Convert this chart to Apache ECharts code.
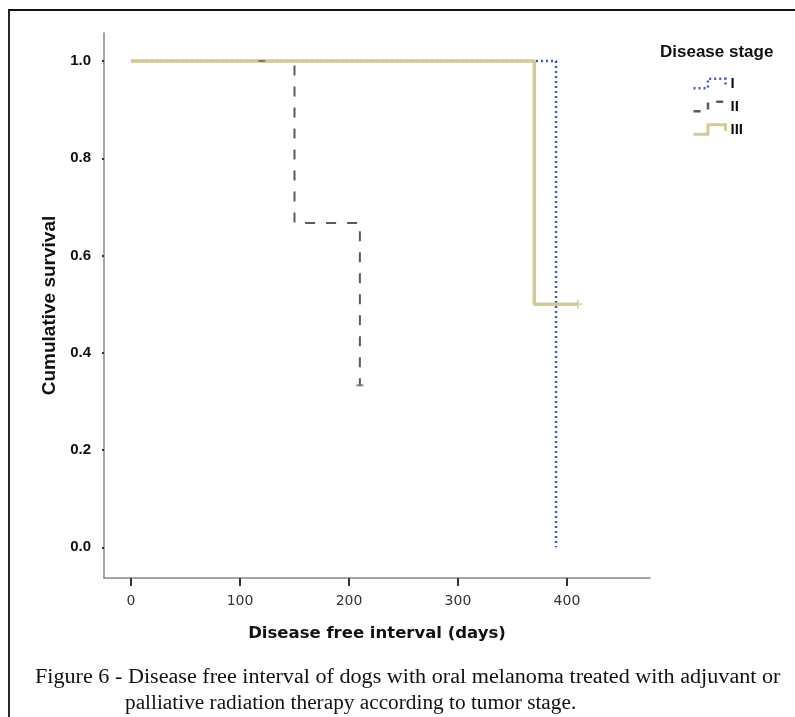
<!DOCTYPE html>
<html>
<head>
<meta charset="utf-8">
<script src="https://cdn.jsdelivr.net/npm/echarts@6/dist/echarts.min.js"></script>
<style>
html,body{margin:0;padding:0;background:#fff;}
#chart{width:795px;height:717px;}
</style>
</head>
<body>
<div id="chart"></div>
<script>
// ---- data ----
const stageNames = ['I', 'II', 'III'];
// Kaplan-Meier step points [days, cumulative survival]
const stageI = [[0, 1.0], [390, 0.0]];
const stageII = [[0, 1.0], [150, 0.667], [210, 0.333]];
const stageIII = [[0, 1.0], [370, 0.5], [410, 0.5]];
// censored observations
const censorII = [[120, 1.0], [210, 0.333]];
const censorIII = [[410, 0.5]];
// tick labels
const xTicks = [0, 100, 200, 300, 400];
const yTicks = [0.0, 0.2, 0.4, 0.6, 0.8, 1.0];
const xTitle = 'Disease free interval (days)';
const yTitle = 'Cumulative survival';
const legendTitle = 'Disease stage';
const captionLine1 = 'Figure 6 - Disease free interval of dogs with oral melanoma treated with adjuvant or';
const captionLine2 = 'palliative radiation therapy according to tumor stage.';

// ---- styles ----
const colI = '#3a58c8';
const colII = '#5a5a5a';
const colIII = '#d4cb92';
const stepIcon = 'path://M0,10 L14,10 L14,1 L31,1 L31,7';

const chart = echarts.init(document.getElementById('chart'), null, {renderer: 'canvas'});

const option = {
  backgroundColor: '#fff',
  animation: false,
  title: {
    text: legendTitle,
    left: 660, top: 44, padding: 0,
    textStyle: {fontFamily: 'Liberation Sans', fontWeight: 'bold', fontSize: 17, color: '#111'}
  },
  legend: {
    orient: 'vertical',
    left: 692, top: 76, padding: 0,
    itemWidth: 32, itemHeight: 10, itemGap: 8,
    textStyle: {fontFamily: 'Liberation Sans', fontWeight: 'bold', fontSize: 15, color: '#111'},
    selectedMode: false,
    data: [
      {name: stageNames[0], icon: stepIcon, itemStyle: {color: 'transparent', borderColor: colI, borderWidth: 2.5, borderType: [2, 3]}},
      {name: stageNames[1], icon: stepIcon, itemStyle: {color: 'transparent', borderColor: colII, borderWidth: 2.5, borderType: [7, 9]}},
      {name: stageNames[2], icon: stepIcon, itemStyle: {color: 'transparent', borderColor: colIII, borderWidth: 3, borderType: 'solid'}}
    ]
  },
  grid: {left: 104, top: 33, width: 546, height: 545, containLabel: false},
  xAxis: {
    type: 'value',
    min: -24.8, max: 476.2,
    name: xTitle,
    nameLocation: 'middle',
    nameGap: 47,
    nameTextStyle: {fontFamily: 'DejaVu Sans', fontWeight: 'bold', fontSize: 16.5, color: '#111'},
    axisLine: {onZero: false, lineStyle: {color: '#888', width: 1.5}},
    axisTick: {show: true, customValues: xTicks, length: 8, lineStyle: {color: '#333', width: 2}},
    axisLabel: {customValues: xTicks, margin: 16, fontFamily: 'DejaVu Sans', fontSize: 14, color: '#333'},
    splitLine: {show: false}
  },
  yAxis: {
    type: 'value',
    min: -0.0632, max: 1.0576,
    name: yTitle,
    nameLocation: 'middle',
    nameGap: 38,
    nameRotate: 90,
    nameTextStyle: {fontFamily: 'Liberation Sans', fontWeight: 'bold', fontSize: 19, color: '#111'},
    axisLine: {onZero: false, lineStyle: {color: '#888', width: 1.5}},
    axisTick: {show: true, customValues: yTicks, length: 2, lineStyle: {color: '#333', width: 2}},
    axisLabel: {customValues: yTicks, margin: 13, fontFamily: 'Liberation Sans', fontWeight: 'bold', fontSize: 15, color: '#111',
      formatter: v => v.toFixed(1)},
    splitLine: {show: false}
  },
  series: [
    {name: stageNames[0], type: 'line', step: 'end', data: stageI, symbol: 'none',
     lineStyle: {color: colI, width: 2.5, type: [2, 3]}, itemStyle: {color: colI}},
    {name: stageNames[1], type: 'line', step: 'end', data: stageII, symbol: 'none',
     lineStyle: {color: colII, width: 2, type: [10, 11]}, itemStyle: {color: colII}},
    {name: stageNames[2], type: 'line', step: 'end', data: stageIII, symbol: 'none',
     lineStyle: {color: colIII, width: 3.5}, itemStyle: {color: colIII}},
    {name: 'II censored', type: 'scatter', data: censorII, symbol: 'rect', symbolSize: [7, 2],
     itemStyle: {color: '#666'}, z: 5},
    {name: 'III censored', type: 'scatter', data: censorIII,
     symbol: 'path://M4,0 L6,0 L6,4 L10,4 L10,6 L6,6 L6,10 L4,10 L4,6 L0,6 L0,4 L4,4 Z',
     symbolSize: [9, 9], itemStyle: {color: colIII}, z: 5}
  ],
  graphic: [
    {type: 'rect', silent: true, z: 100,
     shape: {x: 9, y: 10, width: 900, height: 900},
     style: {fill: 'none', stroke: '#111', lineWidth: 1.8}},
    {type: 'text', x: 35, y: 667, scaleX: 1.04, silent: true,
     style: {text: captionLine1, fontFamily: 'Liberation Serif', fontSize: 21.3, fill: '#111'}},
    {type: 'text', x: 125, y: 693, silent: true,
     style: {text: captionLine2, fontFamily: 'Liberation Serif', fontSize: 21.3, fill: '#111'}}
  ]
};
chart.setOption(option);
</script>
</body>
</html>
